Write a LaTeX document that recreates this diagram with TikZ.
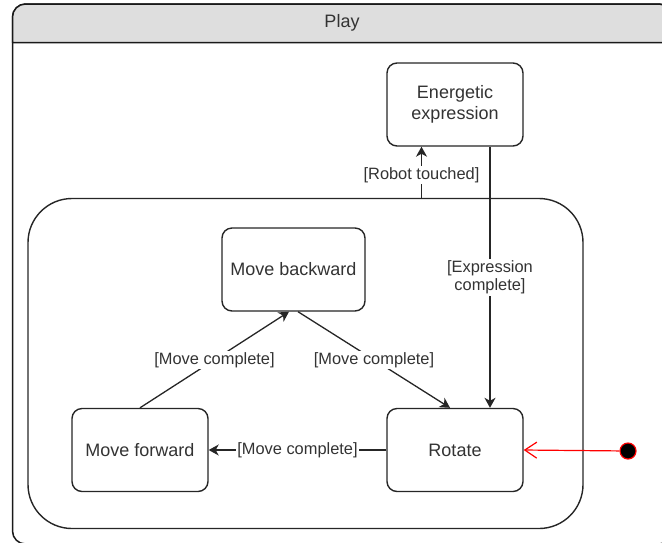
\documentclass[tikz,border=0pt]{standalone}
\usepackage{fontspec}
\setmainfont{Liberation Sans}
\usetikzlibrary{arrows.meta}
\definecolor{headgray}{HTML}{DEDEDE}
\definecolor{ink}{HTML}{333333}
\begin{document}
\begin{tikzpicture}[x=0.5pt,y=-0.5pt,line join=round,
	state/.style={draw=black!85,line width=0.7pt,rounded corners=5pt,fill=white,minimum width=68pt,minimum height=41.5pt,align=center,text=ink,font=\fontsize{9}{10.5}\selectfont},
	lbl/.style={fill=white,text=ink,inner sep=0.8pt,align=center,font=\fontsize{8.2}{9.2}\selectfont},
	arr/.style={draw=black!85,line width=0.65pt,-{Stealth[length=5pt,width=5.5pt,inset=1.5pt]}}]
			\useasboundingbox (0,0) rectangle (662,542);
			\clip (0,0) rectangle (662,542);
			\draw[black!90,line width=0.75pt,rounded corners=6.5pt] (12.5,4) rectangle (672,544);
			\draw[black!90,line width=0.75pt,fill=headgray] (12.5,42.5) [rounded corners=6.5pt] -- (12.5,4) -- (672,4) [sharp corners] -- (672,42.5) -- cycle;
			\node[text=ink,font=\fontsize{9}{10.5}\selectfont] (play) at (342,23) {Play};
			\node[draw=black!85,line width=0.7pt,rounded corners=22pt,minimum width=277.5pt,minimum height=165pt] (loop) at (305.5,363.5) {};
			\node[state] (energetic) at (455,104.5) {Energetic\\expression};
			\node[state,minimum width=71.5pt] (backward) at (293.5,269.5) {Move backward};
			\node[state] (forward) at (140,450) {Move forward};
			\node[state] (rotate) at (455,450) {Rotate};
			\node[circle,fill=black,draw=red,line width=0.6pt,minimum size=8pt,inner sep=0pt] (init) at (628,451) {};
			\path (421.5,0) coordinate (tx) (490,0) coordinate (ex);
			\draw[arr] (tx |- loop.north) -- node[lbl,pos=0.45] {[Robot touched]} (tx |- energetic.south);
			\draw[arr] (ex |- energetic.south) -- node[lbl] {[Expression\\complete]} (ex |- rotate.north);
			\draw[arr] (forward.north) -- node[lbl] {[Move complete]} ([xshift=-2.25pt]backward.south);
			\draw[arr] ([xshift=2.25pt]backward.south) -- node[lbl] {[Move complete]} ([xshift=-2.5pt]rotate.north);
			\draw[arr] (rotate.west) -- node[lbl] {[Move complete]} (forward.east);
			\draw[red,line width=0.6pt,-{Straight Barb[length=6pt,width=8pt]}] (init) -- (rotate.east);
\end{tikzpicture}
\end{document}
